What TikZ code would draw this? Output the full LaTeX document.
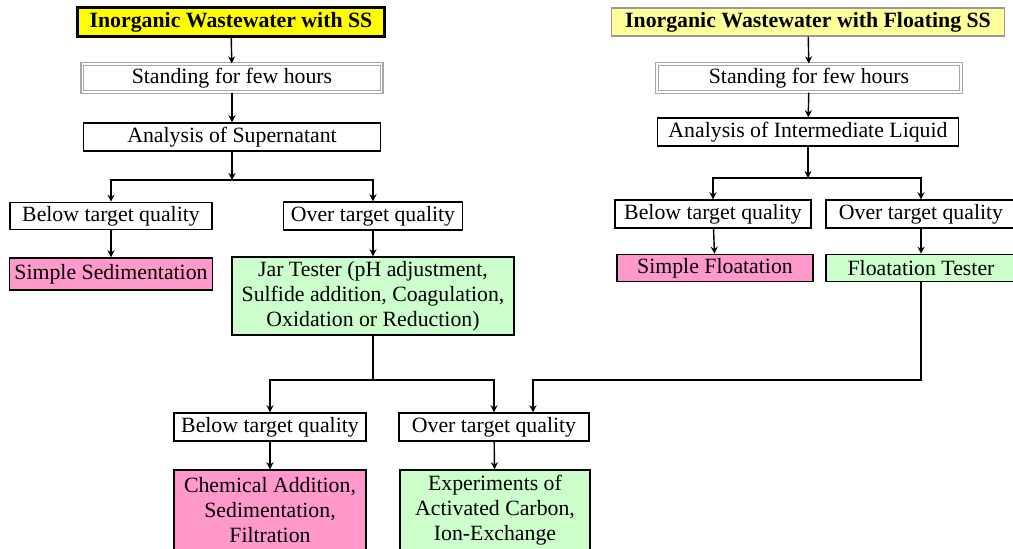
\documentclass[tikz,border=0pt]{standalone}
\usepackage{fontspec}
\setmainfont{Liberation Serif}
\usetikzlibrary{arrows.meta}
\definecolor{ssyellow}{HTML}{FFFF00}
\definecolor{flyellow}{HTML}{FFFF99}
\definecolor{stepink}{HTML}{FF99CC}
\definecolor{stepgreen}{HTML}{CCFFCC}
\begin{document}
\begin{tikzpicture}[x=0.025cm, y=-0.025cm,
    box/.style={draw, line width=1pt, fill=white, inner sep=0pt, align=center,
      font=\fontsize{15.5}{17.8}\selectfont},
    standbox/.style={box, draw=gray!70, double=white, double distance=1pt, line width=0.9pt},
    pinkbox/.style={box, fill=stepink},
    greenbox/.style={box, fill=stepgreen},
    arr/.style={-{Stealth[length=5pt, width=5pt]}, line width=1pt},
    conn/.style={line width=1pt}]
    \path[use as bounding box] (0,0) rectangle (1013,548);
    \clip (0,0) rectangle (1013,548);

    % left column
    \node[box, fill=ssyellow, line width=1.6pt, minimum width=7.675cm, minimum height=0.725cm,
      font=\fontsize{15.5}{17.8}\selectfont\bfseries] (inL) at (231,22) {Inorganic Wastewater with SS};
    \node[standbox, minimum width=7.475cm, minimum height=0.7cm] (standL) at (232,78) {Standing for few hours};
    \node[box, minimum width=7.425cm, minimum height=0.7cm] (anaL) at (232,137) {Analysis of Supernatant};
    \node[box, minimum width=5.05cm, minimum height=0.68cm] (belowL) at (111,216) {Below target quality};
    \node[box, minimum width=4.475cm, minimum height=0.7cm] (overL) at (373,216) {Over target quality};
    \node[pinkbox, minimum width=5.075cm, minimum height=0.8cm] (sedL) at (111,274) {Simple Sedimentation};
    \node[greenbox, minimum width=7.05cm, minimum height=1.95cm] (jar) at (373,296)
      {Jar Tester (pH adjustment,\\ Sulfide addition, Coagulation,\\ Oxidation or Reduction)};

    % right column
    \node[box, fill=flyellow, draw=gray!80, line width=0.8pt, minimum width=9.825cm, minimum height=0.7cm,
      font=\fontsize{15.5}{17.8}\selectfont\bfseries] (inR) at (808,22) {Inorganic Wastewater with Floating SS};
    \node[standbox, minimum width=7.6cm, minimum height=0.7cm] (standR) at (809,78) {Standing for few hours};
    \node[box, minimum width=7.525cm, minimum height=0.7cm] (anaR) at (808,132) {Analysis of Intermediate Liquid};
    \node[box, minimum width=4.9cm, minimum height=0.7cm] (belowR) at (713,214) {Below target quality};
    \node[box, minimum width=4.75cm, minimum height=0.7cm] (overR) at (921,214) {Over target quality};
    \node[pinkbox, minimum width=4.9cm, minimum height=0.68cm] (floatS) at (715,268) {Simple Floatation};
    \node[greenbox, minimum width=4.75cm, minimum height=0.68cm] (floatT) at (921,268) {Floatation Tester};

    % bottom row
    \node[box, minimum width=4.8cm, minimum height=0.7cm] (belowB) at (270,427) {Below target quality};
    \node[box, minimum width=4.75cm, minimum height=0.7cm] (overB) at (494,427) {Over target quality};
    \node[pinkbox, minimum width=4.8cm, minimum height=2cm] (chem) at (270,510)
      {Chemical Addition,\\ Sedimentation,\\ Filtration};
    \node[greenbox, minimum width=4.75cm, minimum height=2cm] (expt) at (495,510)
      {Experiments of\\ Activated Carbon,\\ Ion-Exchange};

    \coordinate (splitL) at (232,180);
    \coordinate (splitR) at (808,178);
    \coordinate (splitB) at (373,380);
    \coordinate (joinB) at (533,380);

    \draw[arr] (inL) -- (standL);
    \draw[arr] (standL) -- (anaL);
    \draw[arr] (anaL) -- (splitL);
    \draw[arr] (splitL) -| (belowL);
    \draw[arr] (splitL) -| (overL);
    \draw[arr] (belowL) -- (sedL);
    \draw[arr] (overL) -- (jar);

    \draw[arr] (inR) -- (standR);
    \draw[arr] (standR) -- (anaR);
    \draw[arr] (anaR) -- (splitR);
    \draw[arr] (splitR) -| (belowR);
    \draw[arr] (splitR) -| (overR);
    \draw[arr] (belowR) -- (floatS);
    \draw[arr] (overR) -- (floatT);

    \draw[conn] (jar) -- (splitB);
    \draw[arr] (splitB) -| (belowB);
    \draw[arr] (splitB) -| (overB);
    \draw[arr] (floatT) |- (joinB) -- (joinB |- overB.north);
    \draw[arr] (belowB) -- (chem);
    \draw[arr] (overB) -- (expt);
\end{tikzpicture}
\end{document}
